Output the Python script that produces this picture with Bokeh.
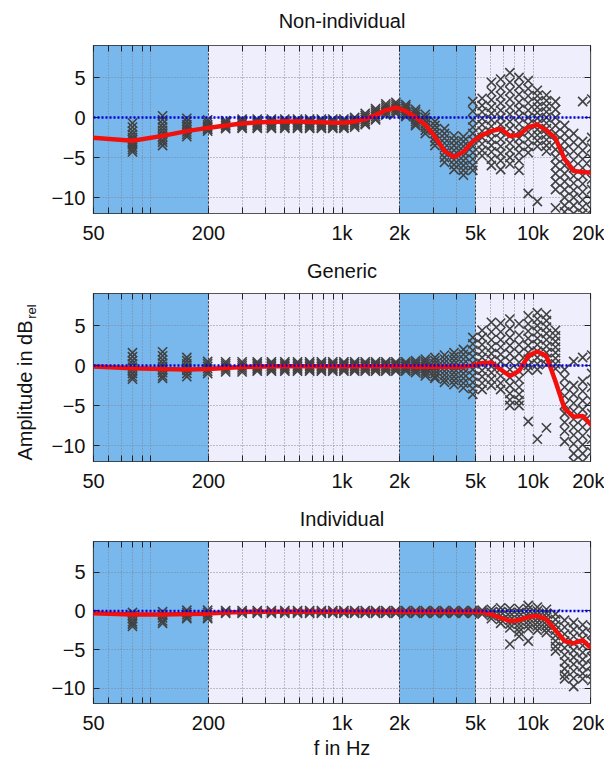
from bokeh.plotting import figure
from bokeh.models import (BoxAnnotation, Span, FixedTicker, Label, ColumnDataSource,
                          LogAxis, LinearAxis)
from bokeh.layouts import column, row
from bokeh.embed import file_html
from bokeh.resources import INLINE

# ---------------- data ----------------
TITLES = ["Non-individual", "Generic", "Individual"]

FREQ = [48.5, 80, 115, 154, 198, 246, 300, 360, 427, 502, 585, 677, 780, 895, 1023,
        1165, 1323, 1499, 1696, 1914, 2158, 2428, 2730, 3066, 3441, 3858, 4322, 4840,
        5414, 6057, 6771, 7566, 8451, 9437, 10535, 11758, 13119, 14636, 16324, 18201, 20300]

MEAN_NONIND = [-2.5, -2.9, -2.3, -1.7, -1.3, -1.0, -0.75, -0.6, -0.55, -0.5, -0.5, -0.55, -0.6,
               -0.65, -0.65, -0.5, -0.2, 0.3, 0.9, 1.25, 0.8, 0.0, -0.9, -2.4, -4.2, -4.95,
               -4.3, -3.0, -2.2, -1.7, -1.4, -2.3, -2.2, -1.2, -0.9, -1.6, -2.6, -5.2, -6.7,
               -6.8, -6.9]
MEAN_GENERIC = [-0.1, -0.35, -0.45, -0.5, -0.45, -0.3, -0.2, -0.15, -0.1, -0.1, -0.1, -0.1,
                -0.1, -0.1, -0.1, -0.1, -0.1, -0.1, -0.1, -0.1, -0.1, -0.15, -0.15, -0.15,
                -0.15, -0.15, -0.15, 0.0, 0.3, 0.35, -0.5, -1.3, -0.7, 1.2, 1.75, 1.2, -2.0,
                -5.4, -6.4, -6.3, -7.5]
MEAN_INDIV = [-0.3, -0.45, -0.45, -0.4, -0.35, -0.2, -0.15, -0.1, -0.1, -0.1, -0.1, -0.1, -0.1,
              -0.1, -0.1, -0.1, -0.1, -0.1, -0.1, -0.1, -0.1, -0.1, -0.1, -0.1, -0.1, -0.1,
              -0.1, -0.1, -0.15, -0.45, -0.9, -1.3, -1.2, -0.8, -0.65, -1.1, -2.5, -3.9,
              -4.2, -3.8, -4.9]

MID_N = [-0.2, -0.4, -0.6, -0.8, -1.0, -1.2, -1.35]
PTS_NONIND = {
    80: [-0.7, -1.2, -1.7, -2.1, -2.5, -2.8, -3.1, -3.4, -3.7, -4.0, -4.3],
    115: [0.2, -0.3, -0.8, -1.2, -1.6, -2.0, -2.4, -2.8, -3.1, -3.5],
    154: [-0.1, -0.5, -0.9, -1.2, -1.5, -1.8, -2.1, -2.4],
    198: [-0.3, -0.6, -0.9, -1.1, -1.3, -1.5, -1.7],
    246: [-0.4, -0.6, -0.8, -1.0, -1.2, -1.4],
    300: MID_N, 360: MID_N, 427: MID_N, 502: MID_N, 585: MID_N, 677: MID_N,
    780: MID_N, 895: MID_N, 1023: MID_N,
    1165: [0.0, -0.2, -0.4, -0.6, -0.8, -1.0, -1.2],
    1323: [0.5, 0.25, 0.0, -0.25, -0.5, -0.75, -0.9],
    1499: [1.1, 0.85, 0.6, 0.35, 0.1, -0.15, -0.3],
    1696: [1.7, 1.45, 1.2, 0.95, 0.7, 0.45, 0.3],
    1914: [1.9, 1.65, 1.4, 1.15, 0.9, 0.65, 0.5],
    2158: [1.6, 1.35, 1.1, 0.8, 0.5, 0.25, 0.1],
    2428: [1.0, 0.7, 0.4, 0.1, -0.2, -0.5, -0.8, -1.0],
    2730: [0.4, 0.0, -0.4, -0.8, -1.2, -1.6, -2.0],
    3066: [-0.5, -1.0, -1.5, -2.0, -2.5, -3.0, -3.5],
    3441: [-1.4, -2.0, -2.6, -3.2, -3.8, -4.4, -5.0, -5.6],
    3858: [-2.3, -2.9, -3.5, -4.1, -4.7, -5.3, -5.9, -6.5],
    4322: [-2.4, -3.0, -3.6, -4.2, -4.8, -5.4, -6.0, -6.6, -7.2],
    4840: [2.0, 0.8, -0.3, -1.2, -2.0, -2.8, -3.6, -4.4, -5.2, -6.0, -6.6],
    5414: [2.4, 1.5, 0.7, -0.1, -0.9, -1.7, -2.5, -3.3, -4.1, -4.8],
    6057: [4.4, 3.2, 2.2, 1.3, 0.5, -0.3, -1.1, -1.9, -2.7, -3.5, -4.3, -5.2, -6.0],
    6771: [4.8, 3.7, 2.7, 1.8, 0.9, 0.0, -0.9, -1.8, -2.7, -3.6, -4.5, -5.4, -6.5],
    7566: [5.6, 4.4, 3.3, 2.3, 1.3, 0.4, -0.5, -1.4, -2.3, -3.2, -4.1, -5.0, -5.8],
    8451: [5.0, 3.9, 2.9, 1.9, 1.0, 0.1, -0.8, -1.7, -2.6, -3.5, -4.4, -5.4, -6.6],
    9437: [4.6, 3.6, 2.7, 1.8, 0.9, 0.0, -0.9, -1.8, -2.7, -3.6, -4.4, -9.5],
    10535: [3.4, 2.7, 2.0, 1.3, 0.6, -0.1, -0.8, -1.5, -2.2, -2.9, -3.6, -10.5],
    11758: [2.8, 2.1, 1.4, 0.7, 0.0, -0.7, -1.4, -2.1, -2.8, -3.5, -4.2],
    13119: [2.0, 1.0, 0.0, -1.0, -2.0, -3.0, -4.0, -5.0, -6.0, -7.0, -8.0, -9.0, -11.3],
    14636: [-1.0, -2.0, -3.0, -4.0, -5.0, -6.0, -7.0, -8.0, -9.0, -10.0, -11.0, -11.8],
    16324: [-2.0, -3.1, -4.2, -5.3, -6.3, -7.3, -8.2, -9.1, -10.0, -11.0, -12.0],
    18201: [2.0, -3.0, -4.1, -5.2, -6.3, -7.3, -8.3, -9.3, -10.3, -11.2, -12.0],
    20300: [2.3, -2.5, -3.8, -5.1, -6.4, -7.7, -9.0, -10.3, -11.5],
}

MID_G = [0.45, 0.25, 0.05, -0.15, -0.35, -0.55, -0.7]
PTS_GENERIC = {
    80: [1.6, 1.1, 0.6, 0.2, -0.2, -0.6, -1.0, -1.4, -1.7],
    115: [1.7, 1.2, 0.7, 0.3, -0.1, -0.5, -0.9, -1.3, -1.6],
    154: [1.0, 0.6, 0.2, -0.2, -0.6, -1.0, -1.4],
    198: [0.5, 0.2, -0.1, -0.4, -0.7, -1.0],
    246: [0.45, 0.2, -0.05, -0.3, -0.55, -0.8],
    300: [0.45, 0.2, -0.05, -0.3, -0.55, -0.8],
    360: MID_G, 427: MID_G, 502: MID_G, 585: MID_G, 677: MID_G, 780: MID_G,
    895: MID_G, 1023: MID_G, 1165: MID_G, 1323: MID_G, 1499: MID_G, 1696: MID_G,
    1914: MID_G, 2158: MID_G,
    2428: [0.6, 0.35, 0.1, -0.15, -0.4, -0.65, -0.9],
    2730: [0.8, 0.5, 0.2, -0.1, -0.4, -0.7, -1.0, -1.3],
    3066: [1.0, 0.6, 0.2, -0.2, -0.6, -1.0, -1.4, -1.6],
    3441: [1.3, 0.8, 0.3, -0.2, -0.7, -1.2, -1.7, -2.1],
    3858: [1.6, 1.1, 0.6, 0.1, -0.4, -0.9, -1.4, -1.9, -2.4],
    4322: [2.0, 1.4, 0.8, 0.2, -0.4, -1.0, -1.6, -2.2, -2.8],
    4840: [3.5, 2.7, 1.9, 1.1, 0.3, -0.5, -1.3, -2.1, -2.9, -3.6],
    5414: [4.4, 3.5, 2.6, 1.8, 1.0, 0.2, -0.6, -1.4, -2.2, -3.0],
    6057: [5.4, 4.2, 3.2, 2.3, 1.5, 0.7, -0.1, -0.9, -1.7, -2.5],
    6771: [5.3, 4.2, 3.2, 2.3, 1.4, 0.5, -0.4, -1.3, -2.2, -3.0],
    7566: [5.8, 4.6, 3.5, 2.5, 1.5, 0.5, -0.5, -1.5, -2.5, -3.5, -4.3, -5.0],
    8451: [5.2, 3.8, 2.6, 1.5, 0.4, -0.7, -1.7, -2.7, -3.6, -4.4, -5.0],
    9437: [6.2, 5.2, 4.3, 3.4, 2.5, 1.6, 0.8, 0.0, -0.6, -7.0],
    10535: [6.6, 5.8, 5.0, 4.2, 3.4, 2.6, 1.8, 1.0, 0.2, -0.5, -9.2],
    11758: [6.4, 5.6, 4.8, 4.0, 3.2, 2.4, 1.6, 0.8, 0.1, -7.8],
    13119: [4.4, 3.7, 3.0, 2.3, 1.6, 0.9, 0.2, -0.4],
    14636: [-0.5, -1.6, -2.7, -3.8, -4.9, -6.0, -7.1, -8.2, -9.5],
    16324: [0.5, -2.5, -3.6, -4.7, -5.7, -6.7, -7.7, -8.7, -9.8, -11.0, -12.0],
    18201: [1.0, -2.0, -3.2, -4.4, -5.5, -6.6, -7.7, -8.8, -9.9, -11.0, -12.0],
    20300: [1.3, -1.0, -2.7, -4.4, -6.0, -7.6, -9.2, -10.8],
}

MID_I = [0.05, -0.15, -0.3]
PTS_INDIV = {
    80: [-0.2, -0.6, -1.0, -1.4, -1.7, -2.0],
    115: [-0.1, -0.5, -0.9, -1.3, -1.6],
    154: [0.1, -0.2, -0.5, -0.8, -1.0],
    198: [0.1, -0.2, -0.5, -0.8, -1.0],
    246: MID_I, 300: MID_I, 360: MID_I, 427: MID_I, 502: MID_I, 585: MID_I,
    677: MID_I, 780: MID_I, 895: MID_I, 1023: MID_I, 1165: MID_I, 1323: MID_I,
    1499: MID_I, 1696: MID_I, 1914: MID_I, 2158: MID_I, 2428: MID_I, 2730: MID_I,
    3066: MID_I, 3441: MID_I, 3858: MID_I, 4322: MID_I, 4840: MID_I,
    5414: [0.1, -0.15, -0.4],
    6057: [0.2, -0.2, -0.6, -1.0],
    6771: [0.4, -0.1, -0.6, -1.1, -1.6],
    7566: [0.3, -0.2, -0.7, -1.2, -1.7, -2.2, -4.3],
    8451: [0.3, -0.2, -0.7, -1.2, -1.7, -2.2, -2.7, -3.3],
    9437: [0.7, 0.2, -0.3, -0.8, -1.3, -1.8, -2.3, -3.9],
    10535: [0.5, 0.0, -0.5, -1.0, -1.5, -2.0, -2.5],
    11758: [0.2, -0.3, -0.8, -1.3, -1.8, -2.3, -2.8],
    13119: [-0.4, -1.1, -1.8, -2.5, -3.2, -3.9, -4.6, -5.2],
    14636: [-1.2, -2.1, -3.0, -3.9, -4.8, -5.7, -6.6, -7.5, -8.3, -8.8],
    16324: [-1.5, -2.4, -3.3, -4.2, -5.1, -6.0, -6.9, -7.8, -8.7, -9.8],
    18201: [-1.8, -2.7, -3.6, -4.5, -5.4, -6.3, -7.2, -8.1, -8.8],
    20300: [-2.0, -3.0, -4.0, -5.0, -6.0, -7.0, -8.0, -9.0],
}

MEANS = [MEAN_NONIND, MEAN_GENERIC, MEAN_INDIV]
POINTS = [PTS_NONIND, PTS_GENERIC, PTS_INDIV]

BAND_EDGES = [50, 200, 2000, 5000, 20000]
BAND_COLORS = ["#78b8ec", "#eeeefc", "#78b8ec", "#eeeefc"]
X_RANGE = (50, 20000)
Y_RANGE = (-12, 9)
X_MAJOR = [50, 200, 1000, 2000, 5000, 10000, 20000]
X_MINOR = [60, 70, 80, 90, 100, 300, 400, 500, 600, 700, 800, 900,
           3000, 4000, 6000, 7000, 8000, 9000]
X_LABELS = {50: "50", 200: "200", 1000: "1k", 2000: "2k", 5000: "5k", 10000: "10k", 20000: "20k"}
Y_TICKS = [-10, -5, 0, 5]
Y_LABEL = "Amplitude in dB"
Y_LABEL_SUB = "rel"
X_LABEL = "f in Hz"

FONT = "Liberation Sans"
FS = "20px"
LABEL_W = 40
PANEL_W = 604 - LABEL_W
BORDER_L = 93 - LABEL_W
BORDER_R = 14
FRAME_H = 168
TITLE_H = [33, 33, 33]
TITLE_Y = [13, 11, 11]
PANEL_TOP = 12
PANEL_BOTTOM = [35, 35, 52]
TEXT_COLOR = "#111111"
GRID_COLOR = "#7d7d8c"


def style_ticks(ax):
    ax.major_tick_in = 6
    ax.major_tick_out = 0
    ax.minor_tick_in = 6
    ax.minor_tick_out = 0
    ax.axis_line_color = None
    ax.major_tick_line_color = "#222222"
    ax.minor_tick_line_color = "#222222"


def blank_figure(w, h):
    f = figure(width=w, height=h, x_range=(0, 1), y_range=(0, 1),
               output_backend="svg", toolbar_location=None,
               x_axis_location=None, y_axis_location=None, min_border=0)
    f.outline_line_color = None
    f.grid.visible = False
    f.background_fill_color = None
    f.border_fill_color = None
    return f


def make_title(i):
    t = blank_figure(PANEL_W, TITLE_H[i])
    frame_w = PANEL_W - BORDER_L - BORDER_R
    # the column aligns this figure's frame with the panel frames below
    t.add_layout(Label(x=frame_w / 2, y=TITLE_Y[i], x_units="screen",
                       y_units="screen", text=TITLES[i], text_align="center",
                       text_baseline="middle", text_font=FONT, text_font_size=FS,
                       text_color=TEXT_COLOR))
    return t


def make_panel(i):
    h = PANEL_TOP + FRAME_H + PANEL_BOTTOM[i]
    p = figure(width=PANEL_W, height=h, x_axis_type="log", x_range=X_RANGE,
               y_range=Y_RANGE, output_backend="svg", toolbar_location=None,
               min_border_left=BORDER_L, min_border_right=BORDER_R,
               min_border_top=PANEL_TOP, min_border_bottom=PANEL_BOTTOM[i])

    p.background_fill_color = "white"
    p.outline_line_color = "#222222"
    p.outline_line_width = 1.2

    for j in range(len(BAND_EDGES) - 1):
        p.add_layout(BoxAnnotation(left=BAND_EDGES[j], right=BAND_EDGES[j + 1],
                                   fill_color=BAND_COLORS[j], fill_alpha=1.0,
                                   line_color=None, level="image"))
    for edge in BAND_EDGES[1:-1]:
        p.add_layout(Span(location=edge, dimension="height", line_color="#333333",
                          line_width=1, line_dash="2 2", level="underlay"))

    xt = FixedTicker(ticks=X_MAJOR, minor_ticks=X_MINOR)
    yt = FixedTicker(ticks=Y_TICKS, minor_ticks=[])

    xa = p.xaxis[0]
    xa.ticker = xt
    xa.major_label_overrides = X_LABELS
    ya = p.yaxis[0]
    ya.ticker = yt
    for ax in (xa, ya):
        style_ticks(ax)
        ax.major_label_text_font = FONT
        ax.major_label_text_font_size = FS
        ax.major_label_text_color = TEXT_COLOR
    xa.major_label_standoff = 8
    ya.major_label_standoff = 8

    top = LogAxis(ticker=FixedTicker(ticks=[], minor_ticks=X_MAJOR + X_MINOR),
                  major_label_standoff=0, axis_label_standoff=0)
    style_ticks(top)
    p.add_layout(top, "above")
    right = LinearAxis(ticker=FixedTicker(ticks=[], minor_ticks=Y_TICKS),
                       major_label_standoff=0, axis_label_standoff=0)
    style_ticks(right)
    p.add_layout(right, "right")

    p.xgrid.ticker = xt
    p.ygrid.ticker = yt
    for g in (p.xgrid, p.ygrid):
        g.grid_line_color = GRID_COLOR
        g.grid_line_dash = "1 2"
        g.grid_line_width = 1
        g.grid_line_alpha = 0.9
    p.xgrid.minor_grid_line_color = GRID_COLOR
    p.xgrid.minor_grid_line_dash = "1 2"
    p.xgrid.minor_grid_line_alpha = 0.9

    xs, ys = [], []
    for f, vals in POINTS[i].items():
        for v in vals:
            xs.append(f)
            ys.append(v)
    src = ColumnDataSource(dict(x=xs, y=ys))
    p.scatter("x", "y", source=src, marker="x", size=13, line_color="#424242",
              line_width=1.6)

    p.line(FREQ, MEANS[i], line_color="#f2100c", line_width=4.5)

    p.add_layout(Span(location=0, dimension="width", line_color="#0000dd",
                      line_width=2.5, line_dash="2 2"))

    if i == 2:
        xa.axis_label = X_LABEL
        xa.axis_label_text_font = FONT
        xa.axis_label_text_font_size = FS
        xa.axis_label_text_font_style = "normal"
        xa.axis_label_text_color = TEXT_COLOR
        xa.axis_label_standoff = 0
    return p


items = []
for i in range(3):
    items.append(make_title(i))
    items.append(make_panel(i))

total_h = sum(TITLE_H) + sum(PANEL_TOP + FRAME_H + b for b in PANEL_BOTTOM)

# narrow figure that carries the shared y-axis label
lab = blank_figure(LABEL_W, total_h)
lab.add_layout(Label(x=24, y=total_h - 390, x_units="screen", y_units="screen",
                     text=Y_LABEL, angle=90, angle_units="deg",
                     text_align="center", text_baseline="middle",
                     text_font=FONT, text_font_size=FS, text_color=TEXT_COLOR))
lab.add_layout(Label(x=31, y=total_h - 311, x_units="screen", y_units="screen",
                     text=Y_LABEL_SUB, angle=90, angle_units="deg",
                     text_align="center", text_baseline="middle",
                     text_font=FONT, text_font_size="13px", text_color=TEXT_COLOR))

layout = row(lab, column(*items, spacing=0), spacing=0)

open("out.html", "w").write(file_html(layout, INLINE))
